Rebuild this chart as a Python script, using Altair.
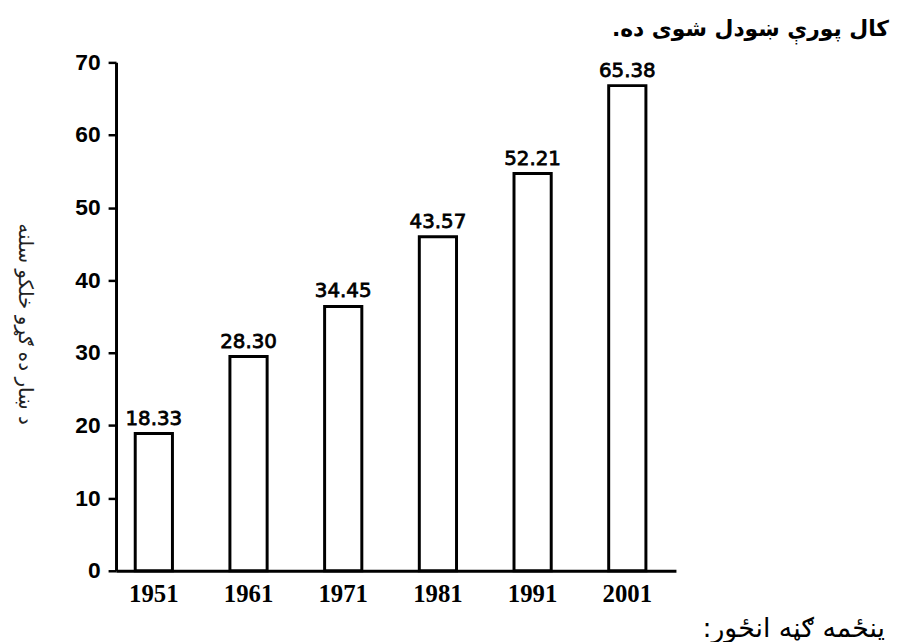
import altair as alt
import pandas as pd

years = ["1951", "1961", "1971", "1981", "1991", "2001"]
bar_heights = [18.9, 29.5, 36.4, 46.0, 54.7, 66.8]
bar_labels = ["18.33", "28.30", "34.45", "43.57", "52.21", "65.38"]
y_ticks = [0, 10, 20, 30, 40, 50, 60, 70]

RLM = "\u200f"
title_text = RLM + "کال پورې ښودل شوی ده." + RLM
caption_text = RLM + "پنځمه ګڼه انځور:" + RLM
y_title_text = "د ښار ده ګړو خلکو سلنه"

df = pd.DataFrame({"year": years, "value": bar_heights, "label": bar_labels})

W, H = 565, 513

x = alt.X("year:N", sort=years, title=None,
          scale=alt.Scale(paddingInner=0.607, paddingOuter=0.26, align=0.39),
          axis=alt.Axis(labelAngle=0, ticks=False, domain=True, domainColor="black",
                        domainWidth=3, labelFont="Liberation Serif", labelFontWeight="bold",
                        labelFontSize=25, labelColor="black", labelPadding=11,
                        labelBaseline="top"))
y = alt.Y("value:Q", title=None,
          scale=alt.Scale(domain=[0, 70], nice=False, zero=True),
          axis=alt.Axis(values=y_ticks, grid=False, domainColor="black", domainWidth=3,
                        tickColor="black", tickWidth=2.5, tickSize=8,
                        labelFont="Liberation Sans", labelFontWeight="bold",
                        labelFontSize=23, labelColor="black", labelPadding=8))

bars = alt.Chart(df).mark_bar(fill="white", stroke="black", strokeWidth=3).encode(x=x, y=y)

labels = alt.Chart(df).mark_text(
    font="DejaVu Sans", fontSize=20, color="black", stroke="black", strokeWidth=0.8,
    baseline="alphabetic", dy=-9
).encode(x=alt.X("year:N", sort=years), y="value:Q", text="label:N")

title = alt.Chart(pd.DataFrame({"t": [title_text]})).mark_text(
    font="DejaVu Sans", fontSize=22, fontWeight="bold", color="black", align="right",
    baseline="middle"
).encode(x=alt.value(780), y=alt.value(-34), text="t:N")

caption = alt.Chart(pd.DataFrame({"t": [caption_text]})).mark_text(
    font="DejaVu Sans", fontSize=27, color="black", align="right", baseline="middle"
).encode(x=alt.value(776), y=alt.value(572), text="t:N")

ytitle = alt.Chart(pd.DataFrame({"t": [y_title_text]})).mark_text(
    font="DejaVu Sans", fontSize=20, color="#222222", align="center", baseline="middle",
    angle=90
).encode(x=alt.value(-92), y=alt.value(264), text="t:N")

chart = alt.layer(bars, labels, title, caption, ytitle).properties(
    width=W, height=H,
    autosize=alt.AutoSizeParams(type="none"),
    padding={"left": 109, "top": 52, "right": 217, "bottom": 69},
    background="white",
).configure_view(stroke=None)

chart.save("out.html", embed_options={"renderer": "svg", "actions": False})
